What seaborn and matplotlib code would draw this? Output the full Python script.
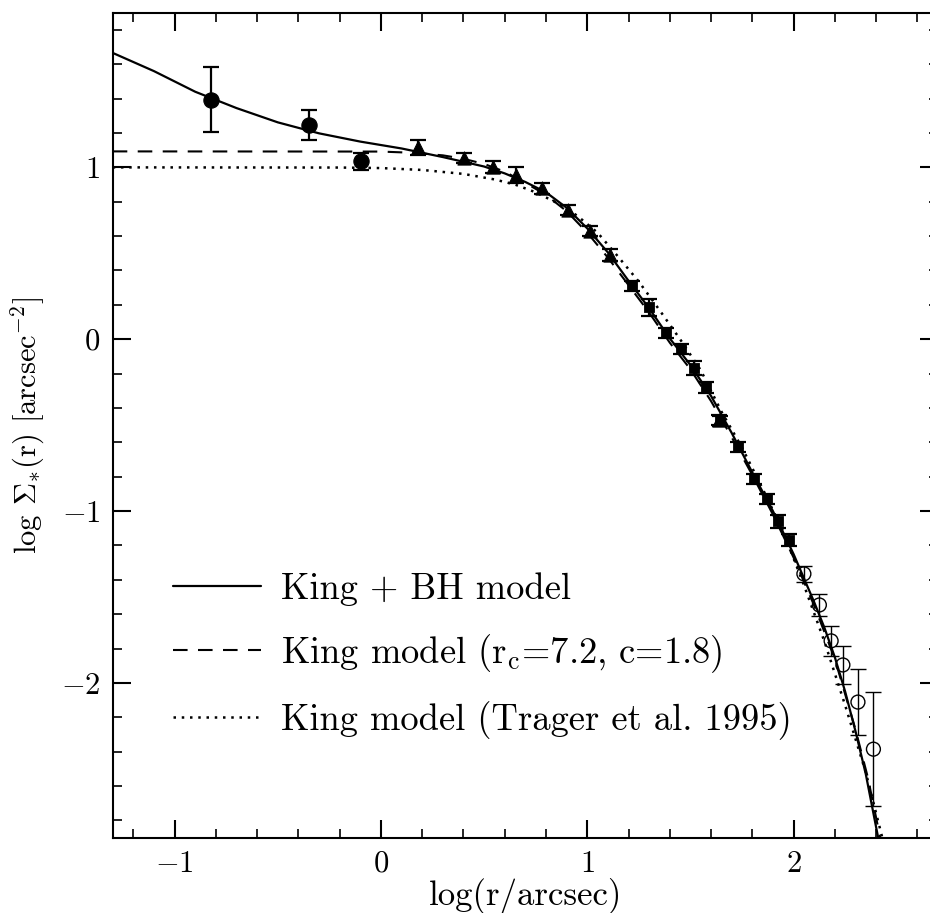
import numpy as np
import pandas as pd
import matplotlib
matplotlib.use("Agg")
import matplotlib.pyplot as plt
from matplotlib.ticker import MultipleLocator
import seaborn as sns

# ---------------- data ----------------
circ_x = [-0.824, -0.347, -0.096]
circ_y = [1.393, 1.246, 1.035]
circ_err = [0.19, 0.088, 0.05]

tri_x = [0.179, 0.402, 0.545, 0.653, 0.782, 0.907, 1.012, 1.112, 1.640]
tri_y = [1.116, 1.054, 1.000, 0.956, 0.878, 0.753, 0.629, 0.489, -0.470]
tri_err = [0.044, 0.030, 0.035, 0.045, 0.030, 0.030, 0.030, 0.035, 0.030]

sq_x = [1.216, 1.301, 1.384, 1.452, 1.518, 1.575, 1.645, 1.732, 1.807, 1.871, 1.926, 1.977]
sq_y = [0.308, 0.186, 0.035, -0.058, -0.167, -0.280, -0.475, -0.625, -0.813, -0.930, -1.060, -1.167]
sq_err = [0.030, 0.050, 0.030, 0.030, 0.040, 0.030, 0.030, 0.030, 0.030, 0.030, 0.040, 0.035]

oc_x = [2.050, 2.125, 2.182, 2.239, 2.312, 2.387]
oc_y = [-1.365, -1.546, -1.755, -1.895, -2.111, -2.385]
oc_err = [0.047, 0.062, 0.087, 0.110, 0.190, 0.330]

solid_x = [-1.3, -1.1, -0.9, -0.7, -0.5, -0.3, -0.1, 0.1, 0.3, 0.5, 0.6, 0.7, 0.8, 0.9,
           1.0, 1.1, 1.2, 1.3, 1.4, 1.5, 1.6, 1.7, 1.8, 1.9, 2.0, 2.05, 2.1, 2.15, 2.2,
           2.25, 2.3, 2.35, 2.41]
solid_y = [1.666, 1.56, 1.44, 1.345, 1.262, 1.198, 1.15, 1.11, 1.06, 1.005, 0.965, 0.915,
           0.855, 0.765, 0.645, 0.505, 0.34, 0.18, 0.005, -0.15, -0.33, -0.545, -0.775,
           -1.0, -1.25, -1.39, -1.53, -1.68, -1.85, -2.05, -2.28, -2.53, -2.9]

dash_x = [-1.3, 0.0, 0.15, 0.3, 0.4, 0.5, 0.6, 0.7, 0.8, 0.9, 1.0, 1.1, 1.2, 1.3, 1.4,
          1.5, 1.6, 1.7, 1.8, 1.9, 2.0, 2.1, 2.2, 2.3, 2.36, 2.42]
dash_y = [1.093, 1.092, 1.085, 1.07, 1.05, 1.02, 0.975, 0.91, 0.84, 0.745, 0.62, 0.475,
          0.315, 0.155, -0.02, -0.175, -0.36, -0.57, -0.79, -1.02, -1.27, -1.55, -1.86,
          -2.27, -2.55, -2.9]

dot_x = [-1.3, -0.2, 0.0, 0.2, 0.4, 0.55, 0.65, 0.75, 0.85, 0.95, 1.05, 1.15, 1.25, 1.35,
         1.45, 1.55, 1.65, 1.75, 1.85, 1.95, 2.05, 2.15, 2.25, 2.35, 2.43]
dot_y = [1.0, 0.999, 0.996, 0.985, 0.962, 0.93, 0.9, 0.855, 0.795, 0.72, 0.62, 0.48,
         0.335, 0.17, 0.0, -0.18, -0.42, -0.63, -0.87, -1.12, -1.43, -1.76, -2.13, -2.52,
         -2.9]

labels = ["King + BH model",
          r"King model ($\mathrm{r_c}$=7.2, c=1.8)",
          "King model (Trager et al. 1995)"]

# ---------------- style ----------------
sns.set_theme(style="ticks")
plt.rcParams.update({
    "font.family": ["cmr10", "DejaVu Serif"],
    "mathtext.fontset": "cm",
    "axes.formatter.use_mathtext": True,
    "axes.linewidth": 1.5,
    "xtick.direction": "in", "ytick.direction": "in",
    "xtick.top": True, "ytick.right": True,
    "xtick.major.size": 13, "ytick.major.size": 13,
    "xtick.minor.size": 6.5, "ytick.minor.size": 6.5,
    "xtick.major.width": 1.5, "ytick.major.width": 1.5,
    "xtick.minor.width": 1.2, "ytick.minor.width": 1.2,
    "xtick.color": "black", "ytick.color": "black",
    "axes.edgecolor": "black",
    "text.color": "black", "axes.labelcolor": "black",
})

fig = plt.figure(figsize=(9.3, 9.13), dpi=100)
ax = fig.add_axes([0.1212, 0.0825, 0.8874, 0.9036])

sns.lineplot(x=solid_x, y=solid_y, ax=ax, color="black", lw=1.6, sort=False,
             estimator=None, label=labels[0])
sns.lineplot(x=dash_x, y=dash_y, ax=ax, color="black", lw=1.5, sort=False,
             estimator=None, label=labels[1], dashes=False)
ax.lines[-1].set_dashes([7, 5])
sns.lineplot(x=dot_x, y=dot_y, ax=ax, color="black", lw=1.8, sort=False,
             estimator=None, label=labels[2])
ax.lines[-1].set_dashes([1, 2.3])

ekw = dict(fmt="none", ecolor="black", capsize=6)
ax.errorbar(circ_x, circ_y, yerr=circ_err, elinewidth=1.6, capthick=1.6, **ekw)
ax.errorbar(tri_x, tri_y, yerr=tri_err, elinewidth=1.6, capthick=1.6, **ekw)
ax.errorbar(sq_x, sq_y, yerr=sq_err, elinewidth=1.6, capthick=1.6, **ekw)
ax.errorbar(oc_x, oc_y, yerr=oc_err, elinewidth=1.0, capthick=1.0, **ekw)

sns.scatterplot(x=circ_x, y=circ_y, ax=ax, marker="o", s=120, color="black",
                edgecolor="black", zorder=5)
sns.scatterplot(x=tri_x, y=tri_y, ax=ax, marker="^", s=90, color="black",
                edgecolor="black", zorder=5)
sns.scatterplot(x=sq_x, y=sq_y, ax=ax, marker="s", s=55, color="black",
                edgecolor="black", zorder=5)
sns.scatterplot(x=oc_x, y=oc_y, ax=ax, marker="o", s=100, facecolor="none",
                edgecolor="black", linewidth=1.0, zorder=5)

ax.set_xlim(-1.3, 2.7)
ax.set_ylim(-2.9, 1.9)
ax.xaxis.set_major_locator(MultipleLocator(1))
ax.xaxis.set_minor_locator(MultipleLocator(0.2))
ax.yaxis.set_major_locator(MultipleLocator(1))
ax.yaxis.set_minor_locator(MultipleLocator(0.2))
ax.tick_params(axis="both", which="major", labelsize=22, pad=9)

ax.set_xlabel("log(r/arcsec)", fontsize=25, labelpad=0)
ax.set_ylabel(r"log $\Sigma_{*}$(r) [arcsec$^{-2}$]", fontsize=22, labelpad=10)

handles = ax.get_legend_handles_labels()[0]
ax.legend(handles=handles, labels=labels, loc="upper left",
          bbox_to_anchor=(0.073, 0.322), frameon=False, fontsize=26.3,
          handlelength=2.4, handletextpad=0.55, labelspacing=0.72,
          borderpad=0, borderaxespad=0)

fig.savefig("out.png", dpi=100)
